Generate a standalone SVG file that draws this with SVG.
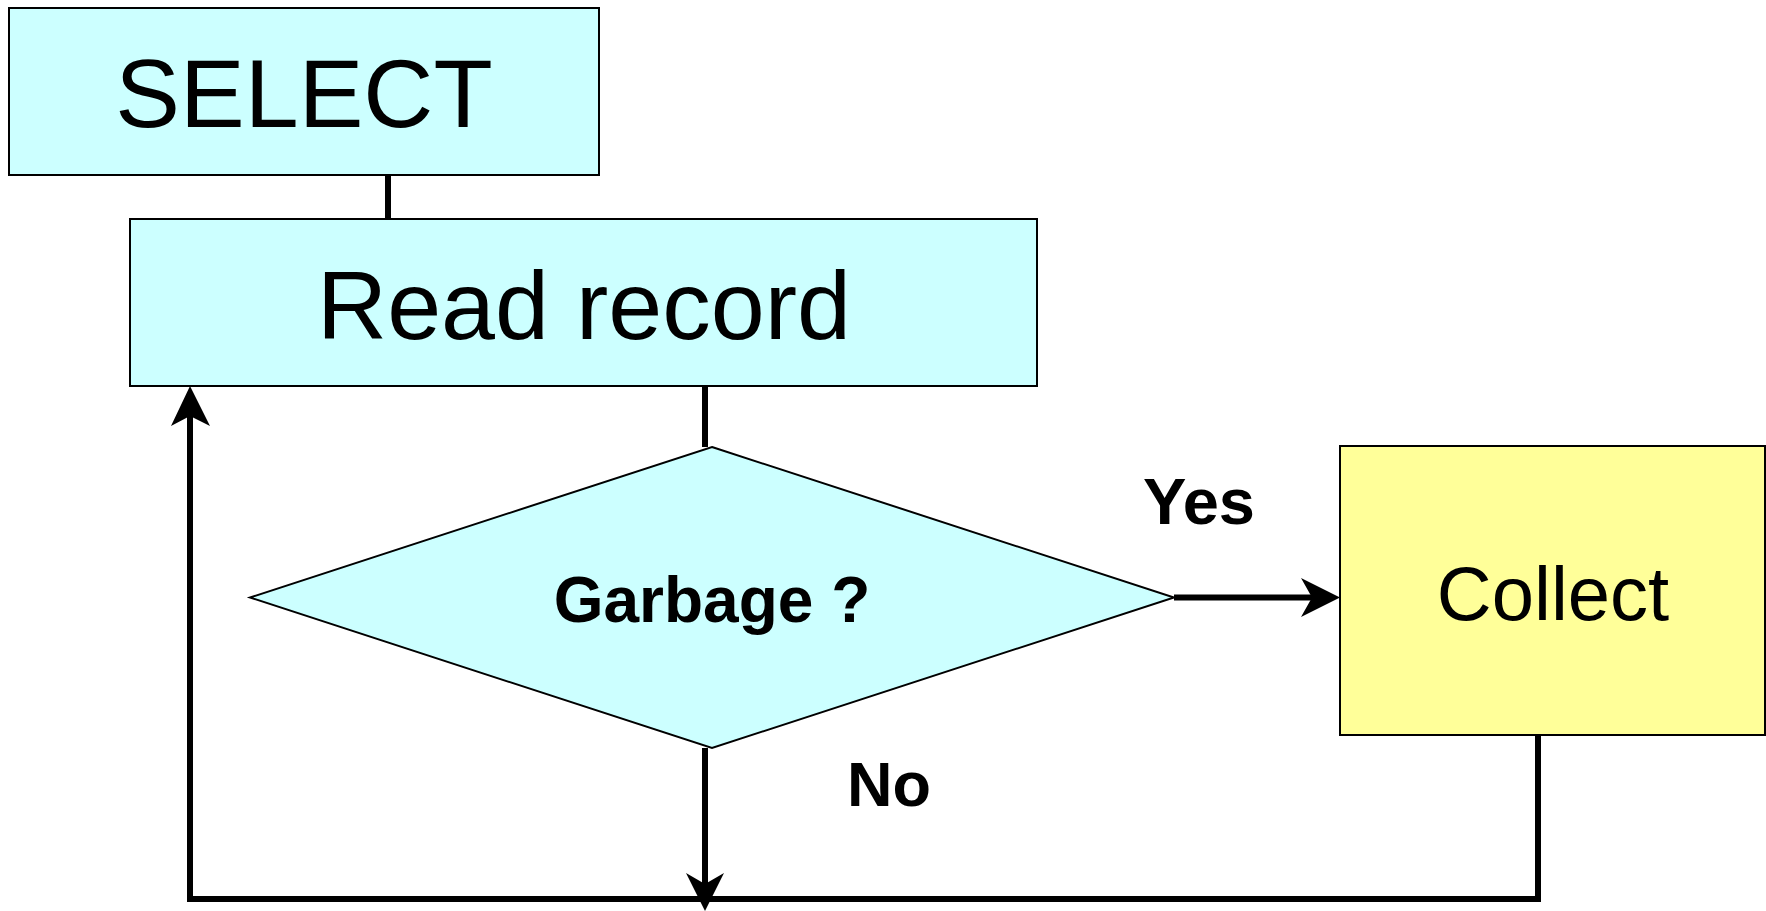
<svg xmlns="http://www.w3.org/2000/svg" width="1766" height="911" viewBox="0 0 1766 911">
<style>
.box{fill:#ccffff;stroke:#000;stroke-width:2}
.yel{fill:#ffff99;stroke:#000;stroke-width:2}
.t{font-family:"Liberation Sans",Arial,sans-serif;fill:#000;text-anchor:middle}
.b{font-weight:bold}
.c{fill:none;stroke:#000;stroke-width:6}
.ah{fill:#000;stroke:none}
</style>
<rect width="1766" height="911" fill="#fff"/>
<g id="connectors">
<line class="c" x1="388" y1="175" x2="388" y2="219"/>
<line class="c" x1="705" y1="386" x2="705" y2="447"/>
<line class="c" x1="1174" y1="597.5" x2="1320" y2="597.5"/>
<polyline class="c" points="705,748 705,899 190,899 190,410"/>
<polyline class="c" points="705,899 1538,899 1538,735"/>
<polygon class="ah" points="190,386 210,426 190,416 171,426"/>
<polygon class="ah" points="705,911 686,873 705,884 724,873"/>
<polygon class="ah" points="1340,597.5 1301,578 1312,597.5 1301,617"/>
</g>
<g id="select">
<rect class="box" x="9" y="8" width="590" height="167"/>
<text class="t" x="304" y="127" font-size="97">SELECT</text>
</g>
<g id="read-record">
<rect class="box" x="130" y="219" width="907" height="167"/>
<text class="t" x="584" y="339" font-size="97">Read record</text>
</g>
<g id="garbage">
<polygon class="box" points="712,447 1174,597.5 712,748 250,597.5"/>
<text class="t b" x="712" y="622" font-size="64">Garbage ?</text>
</g>
<g id="collect">
<rect class="yel" x="1340" y="446" width="425" height="289"/>
<text class="t" x="1553" y="620" font-size="76">Collect</text>
</g>
<g id="labels">
<text class="t b" x="1199" y="524" font-size="65">Yes</text>
<text class="t b" x="889" y="806" font-size="63">No</text>
</g>
</svg>
